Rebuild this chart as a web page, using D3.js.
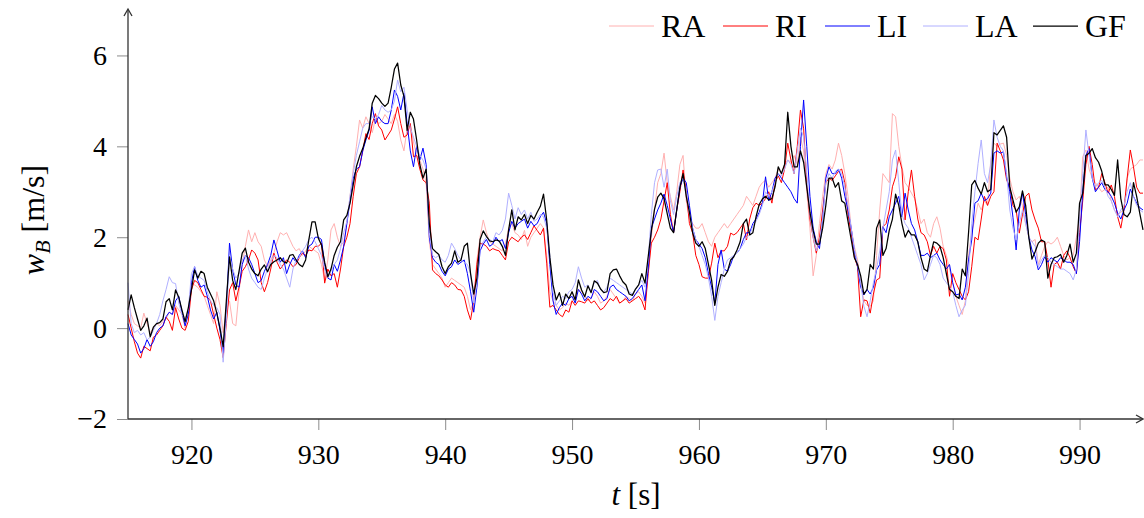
<!DOCTYPE html>
<html>
<head>
<meta charset="utf-8">
<script src="https://cdn.jsdelivr.net/npm/d3@7"></script>
<style>
  html, body { margin: 0; padding: 0; background: #fff; }
  svg { display: block; }
  text { font-family: "Liberation Serif", "DejaVu Serif", serif; fill: #000; }
</style>
</head>
<body>
<svg id="chart" width="1144" height="518"></svg>
<script>
// ---- sampling grid (seconds) ----
const tStart = 915, tStep = 0.25;

// ---- axis ticks ----
const xTicks = [920, 930, 940, 950, 960, 970, 980, 990];
const yTicks = [-2, 0, 2, 4, 6];

// ---- series names / colours ----
const seriesNames = ["RA", "RI", "LI", "LA", "GF"];
const seriesColors = ["#ffb0b0", "#ff0000", "#0000ff", "#b0b0ff", "#000000"];

// ---- values (w_B in m/s), one per 0.25 s from 915 to 995 ----
const RA = [
 0.60,0.30,0.10,0.05,0.00,0.33,0.10,-0.10,0.00,0.10,0.05,0.15,0.20,0.35,0.30,0.50,0.40,0.30,0.00,0.40,
 1.00,0.95,0.90,0.80,0.70,0.50,0.30,0.10,0.80,0.50,-0.10,0.40,0.60,0.10,0.05,0.80,1.40,1.80,2.16,1.90,
 2.10,1.90,1.80,1.50,1.35,1.50,1.65,1.90,2.10,2.05,2.10,1.95,1.80,1.70,1.75,1.60,1.70,1.80,1.75,1.70,
 1.65,1.40,1.06,1.50,2.16,2.30,2.00,1.80,1.90,2.30,2.90,3.50,4.00,4.58,4.40,4.65,4.50,4.30,4.60,4.50,
 4.55,4.70,4.60,4.50,4.70,4.55,4.14,3.90,4.40,4.50,4.10,3.80,3.70,3.50,3.20,1.90,1.40,1.30,1.20,1.10,
 0.90,1.00,1.10,1.05,1.00,0.95,0.90,0.70,0.40,0.60,1.50,2.00,2.38,2.10,1.90,1.85,1.80,1.75,1.70,1.85,
 2.20,2.30,2.10,2.05,1.95,2.15,1.80,2.00,2.10,2.20,2.30,2.20,1.60,0.80,0.60,0.50,0.40,0.45,0.55,0.50,
 0.60,0.70,0.85,0.80,0.70,0.60,0.65,0.80,0.70,0.55,0.60,0.70,0.85,0.75,0.65,0.55,0.60,0.70,0.65,0.60,
 0.75,0.80,0.70,0.55,1.20,2.00,2.60,3.20,3.40,3.85,3.20,2.90,2.60,3.00,3.60,3.80,2.80,2.40,2.30,2.20,
 2.20,2.30,2.10,1.90,1.80,2.00,2.10,2.20,2.30,2.20,2.30,2.40,2.50,2.60,2.70,2.90,2.80,2.70,2.90,3.10,
 3.20,3.25,3.10,3.20,3.30,3.50,3.40,3.60,3.70,3.65,3.80,3.60,4.20,3.90,3.00,2.20,1.15,1.60,2.30,2.90,
 3.40,3.60,3.50,3.70,4.07,3.80,3.40,2.90,2.20,1.80,1.50,1.00,0.60,0.50,0.48,0.60,1.60,2.60,3.40,3.30,
 3.20,4.72,4.65,4.00,3.55,3.20,3.10,2.97,2.85,2.60,2.30,2.40,2.10,2.00,2.30,2.45,2.20,1.80,1.60,1.30,
 1.00,0.70,0.50,0.30,0.60,1.60,2.10,2.40,2.75,2.60,2.80,2.70,3.70,4.07,4.00,4.05,4.07,3.80,3.30,3.00,
 2.82,2.90,2.70,2.30,2.00,1.90,1.95,1.40,1.60,1.80,1.90,1.85,1.90,2.00,1.80,1.60,1.50,1.55,1.60,2.00,
 2.45,3.77,3.92,3.50,3.30,3.20,3.10,3.00,3.05,3.10,2.80,2.60,2.50,2.55,2.60,3.30,3.50,3.55,3.60,3.70,
 3.70];

const RI = [
 0.30,0.00,-0.30,-0.55,-0.66,-0.40,-0.45,-0.50,-0.20,-0.15,-0.05,0.05,0.24,0.15,-0.05,0.45,0.20,0.00,-0.05,0.15,
 0.84,1.05,1.00,0.85,0.70,0.68,0.60,0.30,0.00,-0.25,-0.65,0.10,0.84,1.00,0.60,0.90,1.25,1.35,1.50,1.72,
 1.65,1.50,1.00,0.80,1.00,1.30,1.65,1.45,1.30,1.40,1.50,1.45,1.35,1.40,1.55,1.65,1.60,1.72,1.70,1.80,
 1.80,1.87,0.99,1.30,1.15,1.20,0.90,1.30,1.80,2.00,2.30,2.90,3.40,3.55,3.90,4.28,4.15,4.50,4.72,4.45,
 4.36,4.14,4.25,4.36,4.60,4.87,4.50,4.20,4.25,4.50,3.77,3.80,3.50,3.26,3.20,2.75,1.28,1.20,1.15,1.06,
 0.95,0.90,1.00,0.95,0.85,0.84,0.70,0.40,0.18,0.60,1.40,1.87,1.85,1.80,1.70,1.75,1.72,1.70,1.60,1.50,
 1.90,2.00,1.95,1.90,2.00,2.05,1.95,2.10,2.25,2.15,2.05,2.20,1.43,0.46,0.50,0.40,0.30,0.25,0.40,0.35,
 0.60,0.50,0.60,0.58,0.55,0.65,0.55,0.60,0.50,0.40,0.45,0.55,0.65,0.60,0.70,0.55,0.60,0.65,0.55,0.60,
 0.65,0.70,0.60,0.40,1.20,1.87,2.00,2.16,2.40,2.80,3.20,2.50,2.10,2.60,3.00,3.48,3.00,2.30,2.10,1.60,
 1.40,1.13,1.10,1.10,1.43,1.87,1.55,1.70,1.70,1.80,2.09,2.05,2.10,2.20,2.30,1.94,2.40,2.65,2.75,2.70,
 2.75,2.85,3.00,2.75,3.20,3.35,3.20,3.50,4.07,3.70,3.40,4.00,4.80,4.40,3.20,2.40,2.00,1.65,2.00,2.60,
 3.20,3.30,3.25,3.35,3.45,3.50,3.20,2.50,2.09,1.57,1.35,0.25,0.62,0.60,0.33,0.75,1.06,1.10,2.23,2.30,
 2.60,3.11,3.33,3.77,3.50,2.38,3.00,3.48,2.90,2.40,2.10,2.05,1.90,1.60,1.80,1.65,1.80,1.75,1.50,0.70,
 1.20,1.00,0.85,0.70,0.62,0.80,1.35,2.00,1.94,2.40,2.90,2.70,2.90,3.00,4.07,3.90,3.70,3.26,3.10,2.70,
 2.60,2.09,2.50,2.90,2.97,2.60,2.38,2.20,1.90,1.90,1.50,0.90,1.40,1.45,1.30,1.60,1.70,1.55,1.35,1.20,
 2.10,2.80,3.60,4.00,3.60,3.04,3.10,3.40,3.20,2.97,3.15,2.90,2.45,2.20,2.60,3.30,3.92,3.55,3.10,2.97,
 2.97];

const LI = [
 0.10,-0.15,-0.25,-0.35,-0.55,-0.45,-0.25,-0.40,-0.30,-0.10,0.00,0.05,0.25,0.35,0.30,0.60,0.70,0.35,0.05,0.30,
 1.00,1.35,1.05,0.90,0.95,0.70,0.40,0.20,0.35,-0.05,-0.55,0.40,1.87,1.28,0.95,0.90,1.40,1.60,1.55,1.40,
 1.20,1.00,1.05,1.25,1.40,1.60,1.94,1.70,1.45,1.55,1.20,1.40,1.55,1.45,1.60,1.70,1.55,1.80,1.85,2.00,
 2.00,1.95,1.40,1.10,1.06,1.40,1.25,1.50,1.80,2.30,2.80,3.30,3.50,3.55,3.90,4.14,4.35,4.87,4.50,4.65,
 4.55,4.50,4.50,4.80,5.24,5.10,4.80,5.17,4.50,3.90,3.55,4.00,3.70,3.96,3.60,2.00,1.55,1.45,1.40,1.25,
 1.15,1.30,1.35,1.50,1.40,1.45,1.50,1.20,0.80,0.35,0.90,1.70,1.85,1.95,1.80,1.85,2.00,1.90,1.95,1.75,
 2.10,2.35,2.20,2.30,2.35,2.40,2.20,2.35,2.25,2.30,2.45,2.55,2.30,1.40,0.60,0.30,0.45,0.55,0.50,0.65,
 0.70,0.55,0.85,0.75,0.60,0.70,0.65,0.85,0.80,0.70,0.60,0.65,0.90,0.95,0.85,0.80,0.75,0.70,0.60,0.65,
 0.75,0.85,0.95,0.60,1.30,2.20,2.40,2.60,2.75,2.95,2.70,2.40,2.10,2.60,3.10,3.30,3.20,2.70,2.20,1.95,
 1.85,1.75,1.55,1.20,0.90,0.55,1.40,1.72,1.30,1.25,1.40,1.60,1.65,1.75,1.95,2.10,2.10,2.30,2.40,2.55,
 2.75,3.33,2.80,3.00,3.30,3.40,3.30,3.20,3.10,3.00,2.85,2.75,4.00,5.02,4.00,2.90,2.20,1.90,1.75,2.40,
 3.30,3.55,3.40,3.40,3.50,3.30,2.90,2.60,2.20,1.70,1.35,0.90,0.73,0.85,0.75,0.90,1.28,1.40,2.23,2.10,
 2.45,2.60,2.75,2.90,2.45,2.97,2.60,2.30,2.16,1.90,1.60,1.60,1.65,1.55,1.60,1.65,1.50,1.40,1.30,1.40,
 1.00,0.73,0.75,0.62,0.90,1.50,1.94,2.75,2.80,2.97,2.80,2.85,2.97,3.85,3.90,3.85,3.88,3.33,3.00,2.44,
 1.72,2.60,2.97,2.50,2.00,1.72,1.57,1.28,1.40,1.57,1.45,1.55,1.50,1.45,1.55,1.50,1.45,1.45,1.40,1.20,
 1.90,3.00,3.80,3.95,3.30,3.00,3.10,3.20,3.05,3.00,2.90,2.75,2.53,2.40,2.60,2.75,3.06,2.90,2.75,2.65,
 2.60];

const LA = [
 1.00,0.10,-0.10,-0.05,-0.15,-0.10,-0.26,-0.20,-0.05,0.10,0.30,0.60,0.85,1.13,1.00,0.98,0.55,0.30,0.20,0.40,
 1.20,1.35,1.15,1.10,1.05,0.80,0.60,0.50,0.45,0.30,-0.75,0.20,1.60,1.30,1.10,1.20,1.50,1.60,1.30,1.10,
 1.00,0.90,0.85,1.10,1.30,1.45,1.60,1.55,1.40,1.30,1.10,0.90,1.30,1.50,1.55,1.70,1.80,1.95,2.00,1.90,
 1.75,1.60,1.30,1.10,1.25,1.40,1.50,1.75,2.10,2.35,2.90,3.40,3.80,4.10,4.40,4.50,4.50,4.65,4.60,4.70,
 4.90,4.80,4.75,4.80,5.00,5.46,5.20,5.30,4.80,4.40,4.20,4.00,3.80,3.70,3.50,2.10,1.60,1.55,1.60,1.50,
 1.45,1.60,1.87,1.75,1.60,1.50,1.45,1.40,1.20,0.55,1.00,1.80,1.90,2.00,1.95,1.90,2.10,2.05,2.15,2.40,
 2.97,2.70,2.40,2.65,2.50,2.60,2.40,2.55,2.35,2.40,2.50,2.45,2.20,1.60,0.80,0.50,0.60,0.70,0.65,0.80,
 0.85,1.00,1.35,1.10,0.90,0.95,0.80,1.00,1.05,0.85,0.80,0.90,1.10,1.05,1.00,0.95,0.90,0.85,0.80,0.75,
 0.85,0.95,1.05,0.90,1.50,2.50,3.20,3.48,3.50,3.10,3.50,2.80,2.50,2.90,3.20,3.30,3.00,2.50,2.20,1.95,
 1.80,1.60,1.40,1.10,0.70,0.17,0.70,1.00,1.30,1.50,1.55,1.60,1.65,1.75,1.85,2.00,2.05,2.25,2.35,2.50,
 2.70,3.00,2.90,3.00,3.20,3.40,3.35,3.50,3.70,3.60,3.40,3.90,4.40,4.20,3.40,2.50,2.00,1.70,1.90,2.40,
 3.20,3.40,3.30,3.45,3.50,3.40,3.10,2.70,2.20,1.75,1.40,1.00,0.48,0.25,0.60,1.00,1.30,1.70,2.20,2.60,
 3.00,3.70,3.92,3.20,2.50,2.30,2.20,2.00,1.80,1.60,1.40,1.06,1.20,1.40,1.60,1.55,1.40,1.10,1.00,0.90,
 0.80,0.50,0.25,0.40,0.50,1.20,2.30,3.00,3.62,4.14,3.40,3.20,3.60,4.58,4.20,4.00,3.90,3.40,2.60,2.20,
 1.94,2.30,2.60,2.30,2.00,1.90,1.80,1.35,1.50,1.60,1.55,1.45,1.40,1.35,1.30,1.30,1.25,1.20,1.06,1.30,
 2.40,3.40,4.36,3.80,3.30,3.10,3.20,3.25,3.10,2.90,2.80,2.60,2.45,2.60,2.70,3.00,3.20,2.90,2.70,2.60,
 2.55];

const GF = [
 0.40,0.73,0.45,0.20,-0.05,0.05,0.22,-0.19,0.02,0.10,0.12,0.20,0.58,0.65,0.40,0.84,0.68,0.40,0.14,0.44,
 0.84,1.28,1.10,1.25,1.20,0.90,0.75,0.60,0.33,0.00,-0.41,0.60,1.57,1.05,0.85,1.25,1.65,1.76,1.45,1.30,
 1.20,1.15,1.30,1.39,1.24,1.40,1.46,1.50,1.55,1.46,1.43,1.60,1.62,1.50,1.40,1.35,1.50,1.94,2.34,2.34,
 1.98,1.83,1.45,1.13,1.30,1.60,1.78,1.90,2.38,2.48,2.75,3.15,3.55,3.78,3.95,4.18,4.38,4.95,5.12,5.05,
 4.95,4.88,4.95,5.30,5.70,5.83,5.35,5.10,4.35,4.75,4.60,4.14,3.60,3.30,3.50,2.30,1.75,1.68,1.62,1.35,
 1.20,1.35,1.43,1.70,1.45,1.50,1.80,1.87,1.20,0.75,1.10,1.95,2.14,2.02,1.92,1.90,1.94,1.92,1.80,1.60,
 2.16,2.60,2.16,2.45,2.38,2.50,2.30,2.48,2.40,2.55,2.68,2.95,2.38,1.55,0.95,0.62,0.78,0.50,0.75,0.65,
 0.80,0.62,1.06,0.84,0.69,0.93,0.78,1.04,0.99,0.86,0.78,0.80,1.20,1.28,1.30,1.15,1.02,0.95,0.75,0.72,
 0.86,0.95,1.20,0.99,1.57,2.14,2.62,2.88,2.97,2.85,2.52,2.20,2.10,2.60,3.10,3.40,2.90,2.55,2.10,1.87,
 1.80,1.90,1.75,1.40,1.05,0.50,0.90,1.18,1.14,1.25,1.50,1.57,1.72,1.90,2.30,2.40,2.05,2.10,2.45,2.72,
 2.84,2.90,2.82,2.85,3.11,3.55,3.40,3.60,4.75,4.00,3.55,3.55,3.90,3.65,3.10,2.55,2.15,1.85,1.85,2.20,
 2.70,3.30,3.30,3.10,3.20,2.80,2.75,2.35,1.95,1.55,1.40,1.15,0.75,0.85,1.40,1.30,2.20,2.38,1.60,1.75,
 2.15,2.40,2.95,2.70,2.30,2.00,2.15,2.05,2.05,1.90,1.55,1.30,1.25,1.60,1.90,1.87,1.80,1.55,1.20,0.85,
 0.80,0.70,0.65,1.30,1.15,2.10,3.15,3.25,3.08,2.95,3.20,3.00,3.05,4.30,4.25,4.35,4.45,4.20,3.11,2.82,
 2.55,2.67,3.02,2.70,2.00,1.52,1.68,1.87,1.94,1.90,1.10,1.40,1.55,1.57,1.62,1.45,1.60,1.85,1.45,1.65,
 2.75,2.97,3.80,3.85,3.95,3.75,3.65,3.45,3.15,3.15,3.05,2.92,3.70,2.85,2.50,2.45,2.55,3.20,2.90,2.52,
 2.16];

const seriesValues = [RA, RI, LI, LA, GF];

// ---- layout ----
const svg = d3.select("#chart");
const x = d3.scaleLinear().domain([915, 995]).range([128, 1143]);
const y = d3.scaleLinear().domain([-2, 7]).range([419, 10]);

const tickColor = "#8c8c8c";
const axisColor = "#333";
const fontSize = 28;

// x ticks + labels
const xAxis = d3.axisBottom(x).tickValues(xTicks).tickSize(11).tickSizeOuter(0).tickPadding(14);
const gx = svg.append("g").attr("transform", "translate(0,419)").call(xAxis);
gx.select(".domain").remove();
gx.selectAll(".tick line").attr("stroke", tickColor).attr("stroke-width", 1);
gx.selectAll(".tick text").attr("font-size", fontSize).attr("font-family", "Liberation Serif").attr("fill", "#000");

// y ticks + labels
const yAxis = d3.axisLeft(y).tickValues(yTicks).tickSize(11).tickSizeOuter(0).tickPadding(10)
  .tickFormat(d => d < 0 ? "\u2212" + Math.abs(d) : String(d));
const gy = svg.append("g").attr("transform", "translate(128,0)").call(yAxis);
gy.select(".domain").remove();
gy.selectAll(".tick line").attr("stroke", tickColor).attr("stroke-width", 1);
gy.selectAll(".tick text").attr("font-size", fontSize).attr("font-family", "Liberation Serif").attr("fill", "#000");

// series lines
const line = d3.line()
  .x((d, i) => x(tStart + i * tStep))
  .y(d => y(d));

const widths = [1, 1, 1, 1, 1.25];
seriesValues.forEach((vals, k) => {
  svg.append("path")
    .datum(vals)
    .attr("fill", "none")
    .attr("stroke", seriesColors[k])
    .attr("stroke-width", widths[k])
    .attr("stroke-linejoin", "round")
    .attr("d", line);
});

// axis lines with arrows
svg.append("line").attr("x1", 128).attr("y1", 419).attr("x2", 128).attr("y2", 10)
  .attr("stroke", axisColor).attr("stroke-width", 1.3);
svg.append("line").attr("x1", 128).attr("y1", 419).attr("x2", 1142).attr("y2", 419)
  .attr("stroke", axisColor).attr("stroke-width", 1.3);
svg.append("path").attr("d", "M124,16 L128,9 L132,16").attr("fill", "none")
  .attr("stroke", axisColor).attr("stroke-width", 1.3);
svg.append("path").attr("d", "M1136,415 L1143,419 L1136,423").attr("fill", "none")
  .attr("stroke", axisColor).attr("stroke-width", 1.3);

// axis labels
const xl = svg.append("text").attr("x", 636).attr("y", 505).attr("text-anchor", "middle")
  .attr("font-size", 31);
xl.append("tspan").attr("font-style", "italic").text("t");
xl.append("tspan").text(" [s]");

const yl = svg.append("text").attr("transform", "translate(44,220) rotate(-90)")
  .attr("text-anchor", "middle").attr("font-size", 32);
yl.append("tspan").attr("font-style", "italic").text("w");
yl.append("tspan").attr("font-style", "italic").attr("font-size", 22).attr("dy", 6).text("B");
yl.append("tspan").attr("dy", -6).text(" [m/s]");

// legend
const legendX = [609, 723, 825, 923, 1033];
seriesNames.forEach((name, k) => {
  const lx = legendX[k];
  svg.append("line").attr("x1", lx).attr("x2", lx + 45).attr("y1", 26).attr("y2", 26)
    .attr("stroke", seriesColors[k]).attr("stroke-width", k === 4 ? 1.25 : 1);
  svg.append("text").attr("x", lx + 52).attr("y", 37).attr("font-size", 32).text(name);
});
</script>
</body>
</html>
